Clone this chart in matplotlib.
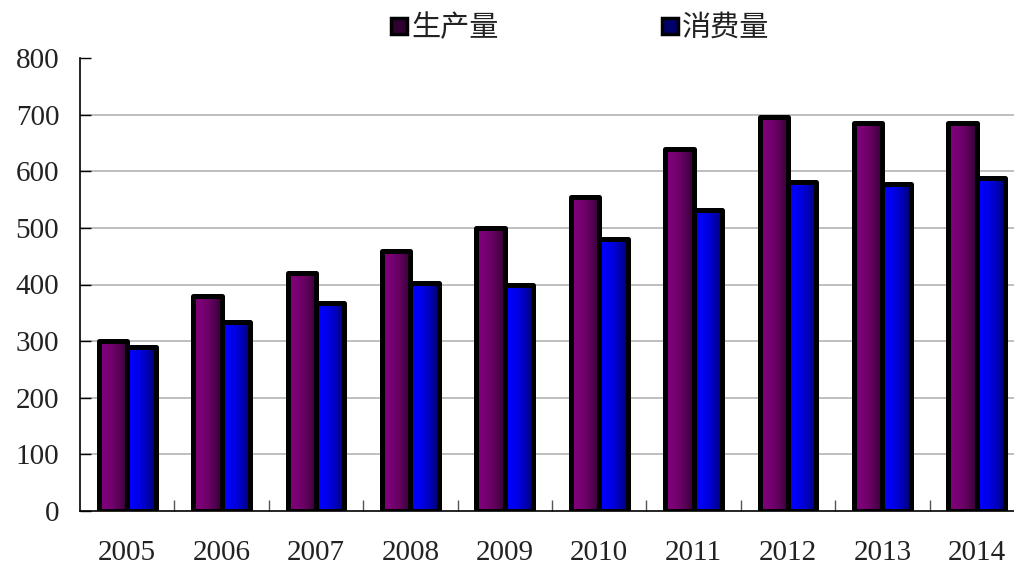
import matplotlib

matplotlib.use("Agg")
import matplotlib.pyplot as plt  # noqa: E402
import numpy as np  # noqa: E402
from matplotlib.colors import to_rgb  # noqa: E402
from matplotlib.lines import Line2D  # noqa: E402
from matplotlib.ticker import FixedLocator  # noqa: E402

years = ["2005", "2006", "2007", "2008", "2009", "2010", "2011", "2012", "2013", "2014"]
production = [300, 380, 420, 460, 500, 555, 640, 695, 686, 686]
consumption = [290, 333, 367, 403, 399, 480, 532, 581, 577, 588]
series_names = ["生产量", "消费量"]
y_ticks = [0, 100, 200, 300, 400, 500, 600, 700, 800]

serif = ["Liberation Serif", "DejaVu Serif"]
cjk = ["Noto Sans CJK SC", "DejaVu Sans"]

# left (light) / right (dark) colours for the horizontal gradient on each bar
grad_colors = [("#80007a", "#300030"), ("#0000ff", "#00006a")]

fig = plt.figure(figsize=(10.14, 5.66), dpi=100)
ax = fig.add_axes([80 / 1014, 1 - 511 / 566, 944 / 1014, 453 / 566])

x = np.arange(len(years))
width = 0.3


def gradient_bars(xpos, values, colors):
    bars = ax.bar(xpos, values, width, facecolor="none", edgecolor="black",
                  linewidth=3.6, joinstyle="round", zorder=4)
    c0, c1 = np.array(to_rgb(colors[0])), np.array(to_rgb(colors[1]))
    t = np.linspace(0, 1, 64) ** 2
    img = (c0[None, :] * (1 - t[:, None]) + c1[None, :] * t[:, None])[None, :, :]
    for b in bars:
        x0, w, h = b.get_x(), b.get_width(), b.get_height()
        ax.imshow(img, extent=[x0, x0 + w, 0, h], aspect="auto",
                  interpolation="bilinear", zorder=3)
    return bars


gradient_bars(x - width / 2, production, grad_colors[0])
gradient_bars(x + width / 2, consumption, grad_colors[1])

ax.set_xlim(-0.5, len(years) - 0.5)
ax.set_ylim(0, 800)

for y in y_ticks[1:-1]:
    ax.axhline(y, color="#b4b4b4", linewidth=1.2, zorder=1)

for side in ("top", "right"):
    ax.spines[side].set_visible(False)
for side in ("left", "bottom"):
    ax.spines[side].set_linewidth(1.2)
    ax.spines[side].set_zorder(5)

ax.set_yticks(y_ticks)
ax.set_yticklabels([str(v) for v in y_ticks], family=serif, fontsize=21, color="#222222")
ax.tick_params(axis="y", direction="in", length=8, width=1, pad=15)

ax.set_xticks(x)
ax.set_xticklabels(years, family=serif, fontsize=21, color="#222222")
ax.xaxis.set_minor_locator(FixedLocator(x[:-1] + 0.5))
ax.tick_params(axis="x", which="major", length=0, pad=21)
ax.tick_params(axis="x", which="minor", direction="in", length=8, width=1, color="#555555")

handles = [
    Line2D([], [], linestyle="none", marker="s", markersize=11,
           markerfacecolor=grad_colors[i][1], markeredgecolor="black", markeredgewidth=2.5)
    for i in range(2)
]
leg = fig.legend(handles, series_names, loc="center", bbox_to_anchor=(580 / 1014, 1 - 28 / 566),
                 ncol=2, frameon=False, handlelength=0.6, handletextpad=0.1,
                 columnspacing=5.6, prop={"family": cjk, "size": 21})
for txt in leg.get_texts():
    txt.set_color("#222222")

fig.savefig("out.png", dpi=100)
